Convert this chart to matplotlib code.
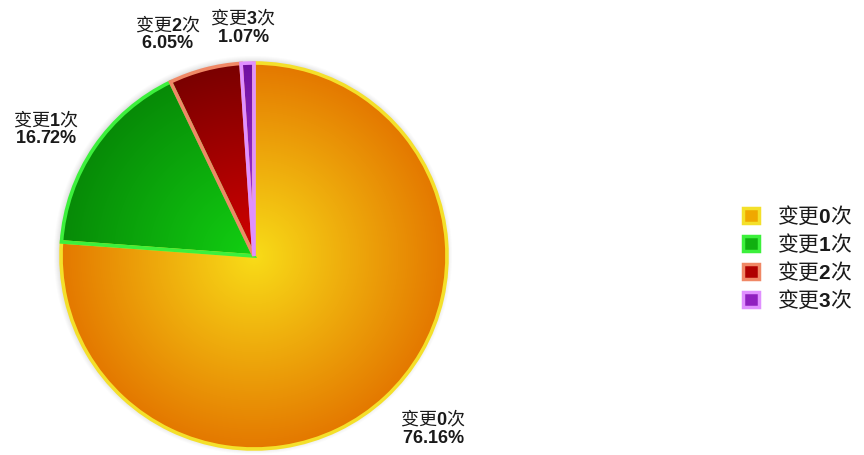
import numpy as np
import matplotlib
matplotlib.use("Agg")
import matplotlib.pyplot as plt
from matplotlib.patches import Patch, Circle
from matplotlib.colors import to_rgb

plt.rcParams['font.family'] = ['Noto Sans CJK SC', 'DejaVu Sans']
plt.rcParams['mathtext.fontset'] = 'custom'
plt.rcParams['mathtext.bf'] = 'Liberation Sans:bold'
plt.rcParams['mathtext.rm'] = 'Liberation Sans'

categories = ['变更0次', '变更1次', '变更2次', '变更3次']
counts_label = ['0', '1', '2', '3']
shares = [76.16, 16.72, 6.05, 1.07]

inner_colors = ['#f8dc18', '#12d012', '#d40000', '#b040e0']
outer_colors = ['#e47800', '#078a07', '#7a0000', '#7010a0']
edge_colors = ['#f4e02a', '#3cf03c', '#f08866', '#e090ff']
legend_faces = ['#f0a800', '#10b010', '#b00000', '#9020c0']

W, H = 864, 455
fig = plt.figure(figsize=(W / 100, H / 100), dpi=100)
ax = fig.add_axes([0, 0, 1, 1])
ax.set_aspect('equal')

cx, cy, r = 254, 199, 193

# soft shadow beneath the pie
for k, a in zip(range(6), [0.05, 0.05, 0.04, 0.04, 0.03, 0.03]):
    ax.add_patch(Circle((cx - 1, cy + 1), r + 1 + k, color='#808080', alpha=a, lw=0, zorder=0))

wedges, _ = ax.pie(shares, center=(cx, cy), radius=r, startangle=90,
                   counterclock=False, frame=True,
                   wedgeprops=dict(linewidth=2.6))

# radial gradient fill per slice
n = 400
xs = np.linspace(cx - r, cx + r, n)
ys = np.linspace(cy - r, cy + r, n)
X, Y = np.meshgrid(xs, ys)
D = np.clip(np.hypot(X - cx, Y - cy) / r, 0, 1)[..., None]
for w, ci, co, ec in zip(wedges, inner_colors, outer_colors, edge_colors):
    img = np.array(to_rgb(ci)) * (1 - D) + np.array(to_rgb(co)) * D
    im = ax.imshow(img, extent=(cx - r, cx + r, cy - r, cy + r), origin='lower',
                   zorder=1, interpolation='bilinear')
    im.set_clip_path(w)
    w.set_facecolor('none')
    w.set_edgecolor(ec)
    w.set_zorder(2)

ax.set_xlim(0, W)
ax.set_ylim(0, H)
ax.axis('off')


def mixed(cat_digit, tail=''):
    return '变更$\\mathbf{' + cat_digit + '}$次' + tail


# slice labels: distance (x radius) and angular nudge (deg) per slice
label_dist = [1.286, 1.265, 1.238, 1.188]
label_nudge = [3.2, 2.7, 6.4, 0.8]
for w, d_label, val, dist, nudge in zip(wedges, counts_label, shares, label_dist, label_nudge):
    ang = np.deg2rad((w.theta1 + w.theta2) / 2 + nudge)
    d = dist * r
    ax.text(cx + d * np.cos(ang), cy + d * np.sin(ang),
            mixed(d_label) + '\n' + '$\\mathbf{' + f'{val:.2f}' + '\\%}$',
            ha='center', va='center', fontsize=13, color='#1a1a1a',
            linespacing=0.95, zorder=3)

handles = [Patch(facecolor=f, edgecolor=e, linewidth=2.5) for f, e in zip(legend_faces, edge_colors)]
leg = fig.legend(handles, [mixed(c) for c in counts_label], loc='center left',
                 bbox_to_anchor=(743 / W, 1 - 258 / H), borderaxespad=0,
                 frameon=False, fontsize=15, handlelength=0.77, handleheight=0.77,
                 handletextpad=0.85, labelspacing=0.22, borderpad=0)
for t in leg.get_texts():
    t.set_color('#1a1a1a')

fig.savefig('out.png', dpi=100)
